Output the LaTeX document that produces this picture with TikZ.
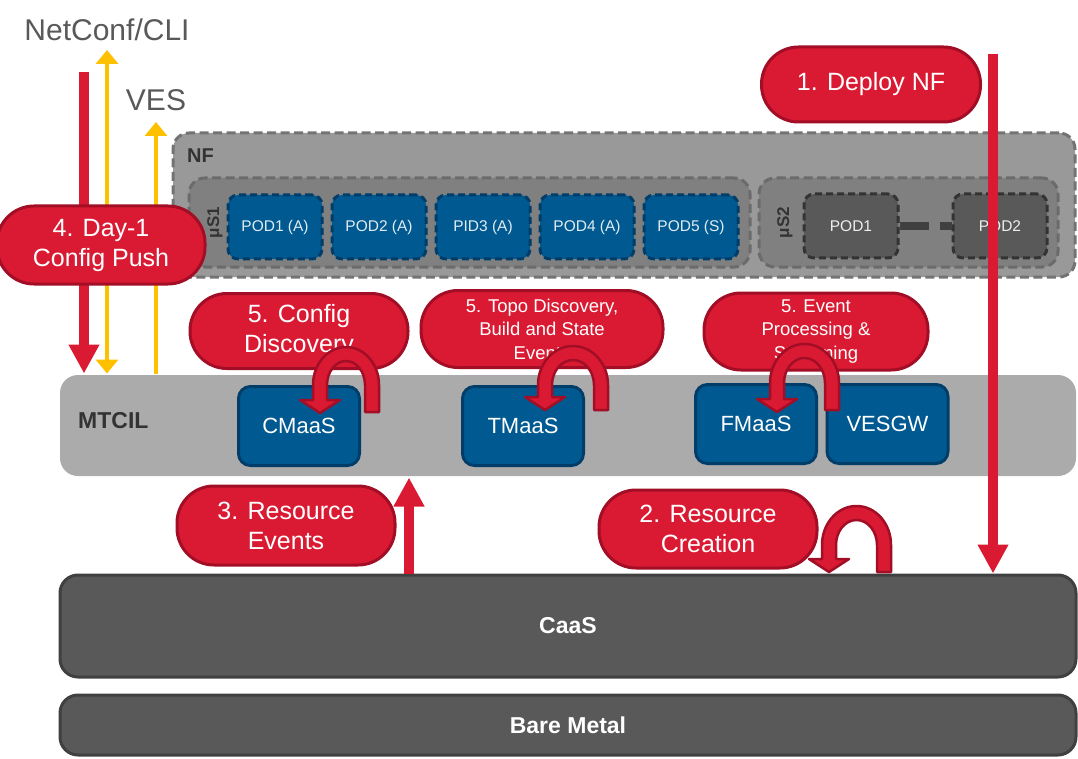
\documentclass[tikz,border=0pt]{standalone}
\usepackage{fontspec}
\setmainfont{Liberation Sans}
\usetikzlibrary{arrows.meta, positioning}

\definecolor{pillred}{HTML}{DA1A32}
\definecolor{pillborder}{HTML}{A20E25}
\definecolor{podblue}{HTML}{005A91}
\definecolor{podborder}{HTML}{003D68}
\definecolor{arrowgold}{HTML}{FFC000}
\definecolor{nfgray}{HTML}{999999}
\definecolor{nfborder}{HTML}{737373}
\definecolor{msgray}{HTML}{808080}
\definecolor{msborder}{HTML}{6B6B6B}
\definecolor{mtcilgray}{HTML}{ABABAB}
\definecolor{caasgray}{HTML}{595959}
\definecolor{caasborder}{HTML}{404040}
\definecolor{labelgray}{HTML}{595959}
\definecolor{darktext}{HTML}{333333}

\tikzset{%
  % Specifications for style of nodes:
          nfbox/.style = {rectangle, rounded corners=16pt, fill=nfgray, draw=nfborder,
                           line width=3pt, dash pattern=on 9pt off 4.5pt},
          msbox/.style = {nfbox, fill=msgray, draw=msborder},
     grouplabel/.style = {text=darktext, font=\bfseries\fontsize{20}{24}\selectfont},
            pod/.style = {rectangle, rounded corners=10pt, fill=podblue, draw=podborder,
                           line width=3pt, dash pattern=on 7pt off 4pt,
                           minimum width=94pt, minimum height=64pt,
                           text=white!88!podblue, font=\fontsize{15.5}{18}\selectfont},
        greypod/.style = {pod, fill=caasgray, draw=darktext, text=white!90!caasgray},
        service/.style = {rectangle, rounded corners=12pt, fill=podblue, draw=podborder,
                           line width=3pt, minimum width=121pt, minimum height=79pt,
                           text=white, font=\fontsize{22}{26}\selectfont},
          layer/.style = {rectangle, rounded corners=18pt, fill=caasgray, draw=caasborder,
                           line width=3pt, minimum width=1016pt,
                           text=white, font=\bfseries\fontsize{23}{28}\selectfont},
           pill/.style = {rectangle, rounded corners=37pt, fill=pillred, draw=pillborder,
                           line width=3pt, align=center, text=white,
                           font=\fontsize{25}{30}\selectfont},
      smallpill/.style = {pill, font=\fontsize{18.5}{23.5}\selectfont},
        iflabel/.style = {text=labelgray, font=\fontsize{30}{34}\selectfont},
  % Specifications for style of connectors:
       redarrow/.style = {draw=pillred, line width=10pt, -{Triangle[width=29pt,length=29pt]}},
      goldarrow/.style = {draw=arrowgold, line width=4pt, -{Triangle[width=22pt,length=14pt]}},
     golddouble/.style = {goldarrow, {Triangle[width=22pt,length=14pt]}-{Triangle[width=22pt,length=14pt]}},
        podlink/.style = {draw=caasborder, line width=8pt, dash pattern=on 29pt off 11pt},
      loopstyle/.style = {fill=pillred, draw=pillborder, line width=2.5pt, line join=round},
}

% U-turn arrow: centre x, centre y, x radius, y radius, tail end y, tip y
\newcommand{\loopback}[6]{%
  \filldraw[loopstyle] ({#1+#3+7},#5) -- ({#1+#3+7},#2)
    arc[start angle=0, end angle=-180, x radius={#3+7}, y radius={#4+7}]
    -- ({#1-#3-7},{#6-13}) -- ({#1-#3-20},{#6-13}) -- ({#1-#3},#6)
    -- ({#1-#3+20},{#6-13}) -- ({#1-#3+7},{#6-13}) -- ({#1-#3+7},#2)
    arc[start angle=-180, end angle=0, x radius={#3-7}, y radius={#4-7}]
    -- ({#1+#3-7},#5) -- cycle;
}

\begin{document}
\begin{tikzpicture}[x=1pt, y=-1pt, every node/.style={inner sep=0pt}]

  \useasboundingbox (0,0) rectangle (1078,759);

  % NF and its micro services
  \node(nf)        [nfbox, minimum width=902pt, minimum height=144pt] at (624,205) {};
  \node(nflabel)   [grouplabel, anchor=west] at (187,156) {NF};
  \node(ms1)       [msbox, minimum width=561pt, minimum height=89pt] at (469.5,222.5) {};
  \node(ms2)       [msbox, minimum width=299pt, minimum height=89pt] at (908.5,222.5) {};
  \node(ms1label)  [grouplabel, rotate=90, font=\bfseries\fontsize{17}{20}\selectfont] at (215,222.5) {μS1};
  \node(ms2label)  [grouplabel, rotate=90, font=\bfseries\fontsize{17}{20}\selectfont] at (785,222.5) {μS2};

  \node(pod1)      [pod] at (275,227)          {POD1 (A)};
  \node(pod2)      [pod, right=7pt of pod1]    {POD2 (A)};
  \node(pid3)      [pod, right=7pt of pod2]    {PID3 (A)};
  \node(pod4)      [pod, right=7pt of pid3]    {POD4 (A)};
  \node(pod5)      [pod, right=7pt of pod4]    {POD5 (S)};

  \node(ms2pod1)   [greypod] at (851,226)  {POD1};
  \node(ms2pod2)   [greypod] at (1000,226) {POD2};
  \draw[podlink]   (ms2pod1) -- (ms2pod2);

  % MTCIL with its services
  \node(mtcil)     [layer, fill=mtcilgray, draw=none, minimum height=101pt] at (568,425.5) {};
  \node(mtcillabel)[grouplabel, anchor=west, font=\bfseries\fontsize{23}{27}\selectfont] at (78,421) {MTCIL};
  \node(cmaas)     [service] at (299,426)   {CMaaS};
  \node(tmaas)     [service] at (523,426)   {TMaaS};
  \node(fmaas)     [service] at (756,424)   {FMaaS};
  \node(vesgw)     [service] at (887.5,424) {VESGW};

  % infrastructure layers
  \node(caas)      [layer, minimum height=102pt] at (568,626) {CaaS};
  \node(baremetal) [layer, minimum height=60pt]  at (568,725) {Bare Metal};

  % northbound interfaces
  \node(netconf)   [iflabel] at (107,30)  {NetConf/CLI};
  \node(ves)       [iflabel] at (156,100) {VES};

  \coordinate (cfgin)   at (84,72);
  \coordinate (cliout)  at (107,50);
  \coordinate (vesout)  at (156,122);
  \draw[redarrow]   (cfgin) -- (cfgin |- mtcil.north);
  \draw[golddouble] (cliout) -- (cliout |- mtcil.north);
  \draw[goldarrow]  (vesout |- mtcil.north) -- (vesout);

  % steps
  \node(deploy)    [pill, minimum width=219pt, minimum height=75pt] at (871,84.5) {1. Deploy NF};
  \node(dayone)    [pill, minimum width=208pt, minimum height=78pt] at (101,245)  {4. Day-1\\Config Push};
  \node(cfgdisc)   [pill, minimum width=218pt, minimum height=75pt] at (299,331) {5. Config\\Discovery};
  \node(topodisc)  [smallpill, minimum width=242pt, minimum height=77pt] at (542,329) {5. Topo Discovery,\\Build and State\\Events};
  \node(eventproc) [smallpill, minimum width=224pt, minimum height=77pt] at (816,331.5) {5. Event\\Processing \&\\Streaming};
  \node(resevents) [pill, minimum width=218pt, minimum height=79pt] at (286,525.5) {3. Resource\\Events};
  \node(rescreate) [pill, minimum width=218pt, minimum height=78pt] at (708,529)   {2. Resource\\Creation};

  % U-turn arrows
  \loopback{346}{385}{26}{31}{412}{413}
  \loopback{573}{385}{28}{32}{410}{410}
  \loopback{804.5}{383}{27.5}{32}{410}{412}
  \loopback{856.5}{545}{27.5}{32}{572}{572}

  % deployment and resource events
  \coordinate (deploystart) at (993,54);
  \coordinate (resevx)      at (409,0);
  \draw[redarrow]   (deploystart) -- (deploystart |- caas.north);
  \draw[redarrow]   (resevx |- caas.north) -- (resevx |- mtcil.south);

\end{tikzpicture}
\end{document}
